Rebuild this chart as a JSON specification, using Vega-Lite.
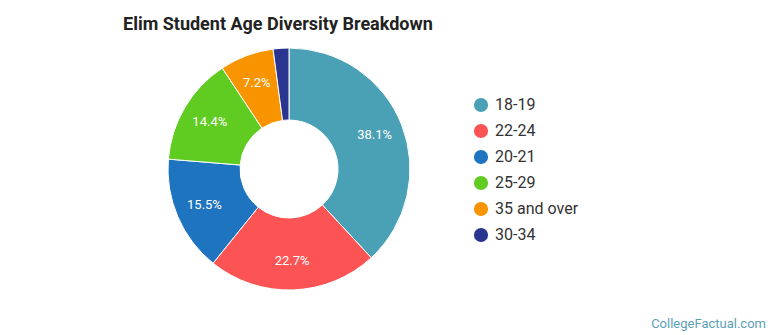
{
  "$schema": "https://vega.github.io/schema/vega-lite/v6.json",
  "background": "white",
  "padding": {"left": 123, "top": 16, "right": 5, "bottom": 5},
  "config": {"view": {"stroke": null}, "font": "Roboto"},
  "title": {"text": "CollegeFactual.com", "orient": "bottom", "anchor": "end", "frame": "bounds", "fontSize": 13, "fontWeight": "normal", "color": "#5b9fb5", "offset": 26, "dx": 187, "font": "Roboto"},
  "vconcat": [
    {
      "title": {"text": "Elim Student Age Diversity Breakdown", "anchor": "start", "dx": -43, "fontSize": 18, "fontWeight": "bold", "color": "#222222", "offset": 12, "font": "Roboto"},
      "width": 240,
      "height": 240,
      "data": {"values": [
        {"age": "18-19", "pct": 38.1, "label": "38.1%", "ord": 1},
        {"age": "22-24", "pct": 22.7, "label": "22.7%", "ord": 2},
        {"age": "20-21", "pct": 15.5, "label": "15.5%", "ord": 3},
        {"age": "25-29", "pct": 14.4, "label": "14.4%", "ord": 4},
        {"age": "35 and over", "pct": 7.2, "label": "7.2%", "ord": 5},
        {"age": "30-34", "pct": 2.1, "label": "", "ord": 6}
      ]},
      "encoding": {
        "theta": {"field": "pct", "type": "quantitative", "stack": true},
        "order": {"field": "ord", "type": "quantitative"}
      },
      "layer": [
        {
          "mark": {"type": "arc", "outerRadius": 121, "innerRadius": 49, "stroke": "white", "strokeWidth": 1},
          "encoding": {
            "color": {"field": "age", "type": "nominal",
              "scale": {"domain": ["18-19", "22-24", "20-21", "25-29", "35 and over", "30-34"],
                        "range": ["#4aa0b5", "#fc5454", "#1f74bf", "#60cc22", "#f79400", "#2a3590"]},
              "legend": {"title": null, "orient": "none", "legendX": 304, "legendY": 48,
                "symbolType": "circle", "symbolSize": 200, "symbolStrokeWidth": 0, "labelFontSize": 16, "labelColor": "#333333",
                "labelFont": "Roboto", "rowPadding": 10, "labelOffset": 6}}
          }
        },
        {
          "mark": {"type": "text", "radius": 92, "color": "white", "fontSize": 13, "font": "Roboto"},
          "encoding": {"text": {"field": "label", "type": "nominal"}}
        }
      ]
    }
  ]
}
